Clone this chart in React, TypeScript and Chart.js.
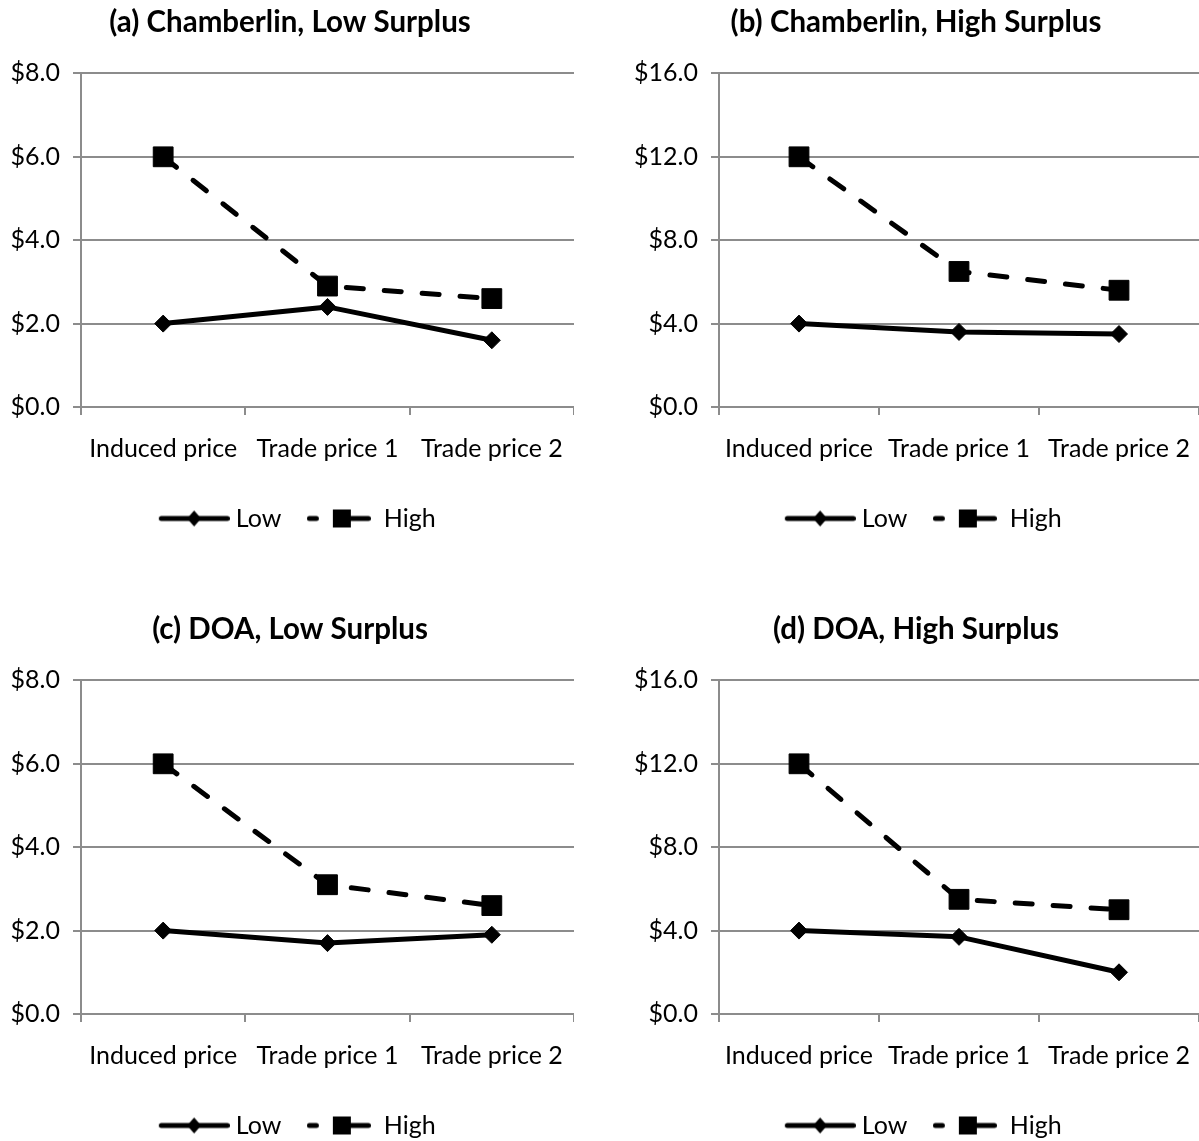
import React, { useEffect, useRef } from "react";
import { Chart, registerables } from "chart.js";

Chart.register(...registerables);

// ---------- data ----------
const categories = ["Induced price", "Trade price 1", "Trade price 2"];
const seriesNames = ["Low", "High"];
const panelTitles = [
  "(a) Chamberlin, Low Surplus",
  "(b) Chamberlin, High Surplus",
  "(c) DOA, Low Surplus",
  "(d) DOA, High Surplus",
];
const lowA = [2.0, 2.4, 1.6];
const highA = [6.0, 2.9, 2.6];
const lowB = [4.0, 3.6, 3.5];
const highB = [12.0, 6.5, 5.6];
const lowC = [2.0, 1.7, 1.9];
const highC = [6.0, 3.1, 2.6];
const lowD = [4.0, 3.7, 2.0];
const highD = [12.0, 5.5, 5.0];
const lowSurplusAxis = { max: 8, step: 2 };
const highSurplusAxis = { max: 16, step: 4 };

// ---------- style ----------
const FONT = "Lato, 'Noto Sans', sans-serif";
const GRID = "#8c8c8c";
const INK = "#000000";
const LINE_W = 5;
const LEGEND_SHIFT = 7;

function makeLowSample(): HTMLCanvasElement {
  const c = document.createElement("canvas");
  c.width = 78;
  c.height = 22;
  const ctx = c.getContext("2d")!;
  ctx.strokeStyle = INK;
  ctx.fillStyle = INK;
  ctx.lineWidth = LINE_W;
  ctx.lineCap = "round";
  ctx.beginPath();
  ctx.moveTo(9.5, 11);
  ctx.lineTo(75.5, 11);
  ctx.stroke();
  const cx = 42.3;
  ctx.beginPath();
  ctx.moveTo(cx - 7, 11);
  ctx.lineTo(cx, 3);
  ctx.lineTo(cx + 7, 11);
  ctx.lineTo(cx, 19);
  ctx.closePath();
  ctx.fill();
  return c;
}

function makeHighSample(): HTMLCanvasElement {
  const c = document.createElement("canvas");
  c.width = 64;
  c.height = 22;
  const ctx = c.getContext("2d")!;
  ctx.strokeStyle = INK;
  ctx.fillStyle = INK;
  ctx.lineWidth = LINE_W;
  ctx.lineCap = "round";
  ctx.beginPath();
  ctx.moveTo(2.5, 11);
  ctx.lineTo(9.5, 11);
  ctx.stroke();
  ctx.beginPath();
  ctx.moveTo(35, 11);
  ctx.lineTo(61.5, 11);
  ctx.stroke();
  ctx.fillRect(35 - 9, 11 - 9, 18, 18);
  return c;
}

const legendShiftPlugin = {
  id: "legendShift",
  afterLayout(chart: any) {
    if (chart.legend) {
      chart.legend.left += LEGEND_SHIFT;
      chart.legend.right += LEGEND_SHIFT;
    }
  },
};

type PanelProps = {
  title: string;
  low: number[];
  high: number[];
  axis: { max: number; step: number };
  left: number;
  top: number;
  width: number;
  height: number;
  yAxisWidth: number;
};

function Panel(p: PanelProps) {
  const ref = useRef<HTMLCanvasElement>(null);
  useEffect(() => {
    if (!ref.current) return;
    const lowImg = makeLowSample();
    const highImg = makeHighSample();
    const chart = new Chart(ref.current, {
      type: "line",
      plugins: [legendShiftPlugin],
      data: {
        labels: categories,
        datasets: [
          {
            label: seriesNames[0],
            data: p.low,
            borderColor: INK,
            backgroundColor: INK,
            borderWidth: LINE_W,
            borderJoinStyle: "round",
            pointStyle: "rectRot",
            pointRadius: 8.5,
            pointBackgroundColor: INK,
            pointBorderColor: INK,
            pointBorderWidth: 1,
            tension: 0,
          },
          {
            label: seriesNames[1],
            data: p.high,
            borderColor: INK,
            backgroundColor: INK,
            borderWidth: LINE_W,
            borderDash: [17, 21],
            borderCapStyle: "round",
            pointStyle: "rect",
            pointRadius: 14,
            pointBackgroundColor: INK,
            pointBorderColor: INK,
            pointBorderWidth: 1,
            tension: 0,
          },
        ],
      },
      options: {
        animation: false,
        responsive: false,
        devicePixelRatio: 1,
        layout: { padding: 0, autoPadding: false },
        plugins: {
          title: {
            display: true,
            text: p.title,
            color: INK,
            font: { family: FONT, size: 29.5, weight: "bold" },
            padding: { top: 5, bottom: 33 },
          },
          legend: {
            position: "bottom",
            labels: {
              usePointStyle: true,
              pointStyleWidth: 65,
              padding: 25,
              color: INK,
              font: { family: FONT, size: 25 },
              generateLabels: () => [
                {
                  text: seriesNames[0],
                  pointStyle: lowImg as any,
                  fillStyle: INK,
                  strokeStyle: INK,
                  lineWidth: 0,
                  hidden: false,
                  datasetIndex: 0,
                },
                {
                  text: seriesNames[1],
                  pointStyle: highImg as any,
                  fillStyle: INK,
                  strokeStyle: INK,
                  lineWidth: 0,
                  hidden: false,
                  datasetIndex: 1,
                },
              ],
            },
          },
          tooltip: { enabled: false },
        },
        scales: {
          x: {
            offset: true,
            grid: {
              offset: true,
              drawOnChartArea: false,
              drawTicks: true,
              tickLength: 8,
              color: GRID,
              lineWidth: 2,
            },
            border: { display: true, color: GRID, width: 2 },
            ticks: {
              color: INK,
              font: { family: FONT, size: 25 },
              padding: 19,
              maxRotation: 0,
              autoSkip: false,
            },
            afterFit: (s: any) => {
              s.height = 74;
              s.paddingLeft = 0;
              s.paddingRight = 0;
            },
          },
          y: {
            min: 0,
            max: p.axis.max,
            ticks: {
              stepSize: p.axis.step,
              color: INK,
              font: { family: FONT, size: 25 },
              padding: 13,
              callback: (v: any) => "$" + Number(v).toFixed(1),
            },
            grid: { color: GRID, lineWidth: 2, tickLength: 8 },
            border: { display: true, color: GRID, width: 2 },
            afterFit: (s: any) => {
              s.width = p.yAxisWidth;
            },
          },
        },
      },
    });
    return () => chart.destroy();
  }, []);
  return (
    <canvas
      ref={ref}
      width={p.width}
      height={p.height}
      style={{
        position: "absolute",
        left: p.left,
        top: p.top,
        width: p.width,
        height: p.height,
      }}
    />
  );
}

export default function App() {
  const rowOffset = 607;
  return (
    <div
      style={{
        position: "absolute",
        left: 0,
        top: 0,
        width: 1199,
        height: 1141,
        overflow: "hidden",
        background: "#ffffff",
      }}
    >
      <Panel title={panelTitles[0]} low={lowA} high={highA} axis={lowSurplusAxis}
        left={6} top={0} width={568} height={541} yAxisWidth={75} />
      <Panel title={panelTitles[1]} low={lowB} high={highB} axis={highSurplusAxis}
        left={633} top={0} width={566} height={541} yAxisWidth={86} />
      <Panel title={panelTitles[2]} low={lowC} high={highC} axis={lowSurplusAxis}
        left={6} top={rowOffset} width={568} height={541} yAxisWidth={75} />
      <Panel title={panelTitles[3]} low={lowD} high={highD} axis={highSurplusAxis}
        left={633} top={rowOffset} width={566} height={541} yAxisWidth={86} />
    </div>
  );
}
